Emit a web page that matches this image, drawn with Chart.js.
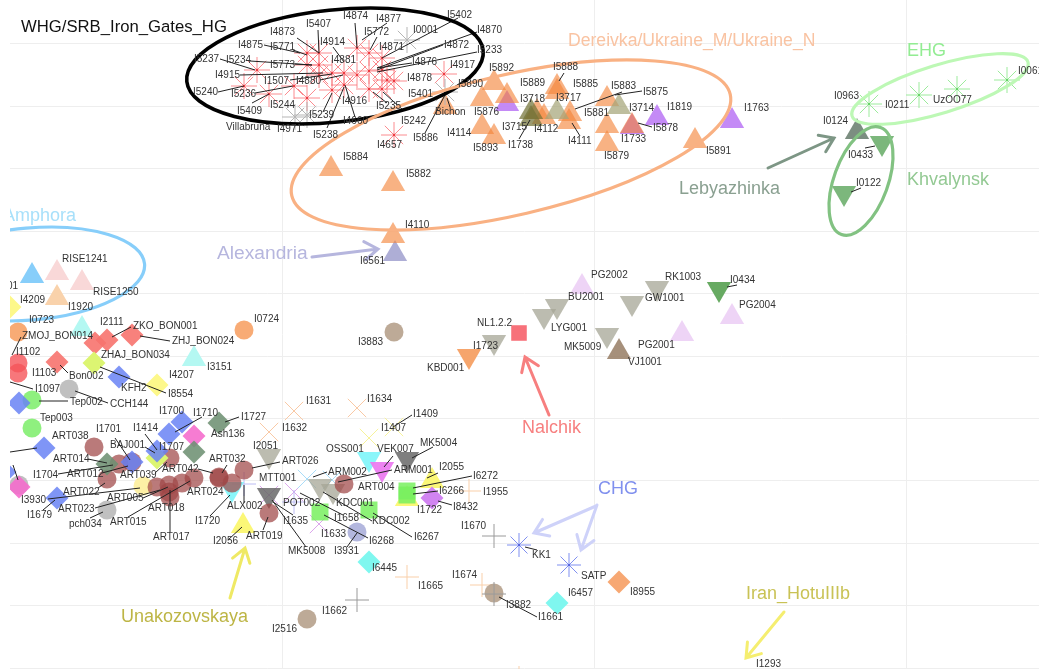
<!DOCTYPE html>
<html>
<head>
<meta charset="utf-8">
<title>WHG scatter</title>
<script src="https://cdn.jsdelivr.net/npm/chart.js@4"></script>
<style>
  html, body { margin: 0; padding: 0; background: #fff; }
  canvas { display: block; filter: blur(0.45px); }
</style>
</head>
<body>
<canvas id="chart" width="1039" height="669"></canvas>
<script>
const gridX = [282, 594, 906];
const gridY = [43, 106, 168, 231, 293, 356, 418, 480, 543, 605, 668];

// marks, one x and y list for each population
const whgX = [257, 244, 269, 294, 307, 307, 319, 319, 357, 369, 382, 382, 369, 344, 357, 332, 344, 369, 382, 394, 387, 444, 394, 332, 307, 319];
const whgY = [70, 86, 94, 86, 98, 53, 53, 65, 48, 53, 58, 70, 71, 73, 75, 90, 85, 89, 89, 81, 80, 74, 135, 73, 65, 75];
const whgGreyX = [407, 295, 307, 445];
const whgGreyY = [40, 117, 115, 92];
const purpleX = [507, 632, 657, 732];
const purpleY = [104, 127, 118, 121];
const ukraineX = [494, 482, 507, 557, 557, 607, 482, 494, 544, 537, 570, 569, 607, 607, 632, 695, 331, 393, 393, 445];
const ukraineY = [83, 99, 96, 87, 92, 99, 127, 137, 117, 112, 114, 122, 126, 144, 126, 141, 169, 184, 236, 107];
const oliveDarkX = [531, 531];
const oliveDarkY = [112, 119];
const oliveLightX = [619, 557];
const oliveLightY = [107, 112];
const alexandriaX = [395];
const alexandriaY = [254];
const ehgX = [869, 919, 957, 1007];
const ehgY = [104, 95, 89, 80];
const lebyazhinkaX = [857];
const lebyazhinkaY = [132];
const khvalynskX = [882, 844];
const khvalynskY = [143, 193];
const darkGreenX = [719];
const darkGreenY = [289];
const lilacX = [582, 732, 682];
const lilacY = [287, 317, 334];
const greyDownX = [557, 544, 632, 657, 607, 494, 269, 320, 333];
const greyDownY = [306, 316, 303, 288, 335, 342, 456, 486, 491];
const orangeDownX = [469];
const orangeDownY = [356];
const brownUpX = [619];
const brownUpY = [352];
const amphoraX = [32];
const amphoraY = [276];
const riseX = [57, 82];
const riseY = [273, 283];
const peachUpX = [57];
const peachUpY = [298];
const cyanUpX = [82, 194];
const cyanUpY = [329, 359];
const yellowUpX = [243, 432, 407];
const yellowUpY = [526, 481, 499];
const cyanDownX = [232, 369];
const cyanDownY = [489, 459];
const pinkDownX = [382];
const pinkDownY = [469];
const darkDownX = [407, 269];
const darkDownY = [459, 495];
const nalchikX = [519];
const nalchikY = [333];
const greenSquareX = [320, 369, 407, 407];
const greenSquareY = [512, 510, 491, 495];
const orangeCircleX = [18, 244];
const orangeCircleY = [332, 330];
const redCircleX = [18, 18];
const redCircleY = [363, 373];
const greyCircleX = [69, 19, 107];
const greyCircleY = [389, 485, 510];
const greenCircleX = [32, 32];
const greenCircleY = [400, 428];
const artX = [94, 119, 107, 170, 157, 169, 169, 182, 194, 170, 219, 219, 232, 244, 269, 344, 132];
const artY = [447, 464, 479, 458, 487, 485, 492, 483, 478, 497, 477, 478, 483, 470, 513, 484, 462];
const paleYellowX = [143];
const paleYellowY = [486];
const brownCircleX = [394, 494, 307];
const brownCircleY = [332, 593, 619];
const lavenderCircleX = [357];
const lavenderCircleY = [532];
const salmonX = [95, 107, 132, 57];
const salmonY = [343, 340, 335, 362];
const blueDiamondX = [119, 19, 44, 182, 169, 157, 132, 57, 5];
const blueDiamondY = [377, 403, 448, 422, 434, 451, 462, 498, 472];
const yellowDiamondX = [10, 157];
const yellowDiamondY = [307, 385];
const limeDiamondX = [94, 157];
const limeDiamondY = [363, 458];
const pinkDiamondX = [194, 19];
const pinkDiamondY = [436, 487];
const sageDiamondX = [219, 194, 107];
const sageDiamondY = [423, 452, 464];
const purpleDiamondX = [432];
const purpleDiamondY = [498];
const cyanDiamondX = [369, 557];
const cyanDiamondY = [562, 603];
const orangeDiamondX = [619];
const orangeDiamondY = [582];
const orangeXX = [294, 357, 269];
const orangeXY = [411, 408, 432];
const yellowXX = [394, 369];
const yellowXY = [427, 438];
const lilacXX = [294, 269, 319];
const lilacXY = [492, 495, 524];
const blueXX = [307, 332];
const blueXY = [479, 480];
const orangePlusX = [469, 407, 482, 519];
const orangePlusY = [491, 577, 585, 678];
const greyPlusX = [494, 494, 357];
const greyPlusY = [536, 594, 600];
const bluePlusX = [244, 294];
const bluePlusY = [484, 502];
const chgX = [519, 569];
const chgY = [545, 565];

// sample labels, left edge and middle of the text
const labelNames = [
  'I4873', 'I5407', 'I4874', 'I4877', 'I5772', 'I0001', 'I5402', 'I4870', 'I4875', 'I5771', 'I4914', 'I4871', 'I4872', 'I5233',
  'I5237', 'I5234', 'I5773', 'I4881', 'I4876', 'I4917', 'I4915', 'I1507', 'I4880', 'I4878', 'I5240', 'I5236', 'I5890', 'I5401',
  'I5409', 'I5244', 'I4916', 'I5235', 'I5239', 'Bichon', 'I4660', 'I5242', 'Villabruna', 'I4971', 'I5238', 'I5886', 'I4657',
  'I5892', 'I5889', 'I5888', 'I5885', 'I5883', 'I5875', 'I3718', 'I3717', 'I5876', 'I3714', 'I1819', 'I1763', 'I5881', 'I3715',
  'I4112', 'I5878', 'I4114', 'I1733', 'I1738', 'I4111', 'I5893', 'I5891', 'I5879', 'I5884', 'I5882', 'I4110', 'I6561',
  'I0963', 'I0211', 'UzOO77', 'I0061', 'I0124', 'I0433', 'I0122',
  'PG2002', 'RK1003', 'I0434', 'PG2004', 'BU2001', 'GW1001', 'NL1.2.2', 'LYG001', 'I1723', 'MK5009', 'PG2001', 'VJ1001', 'KBD001', 'I0724', 'I3883',
  'RISE1241', 'RISE1250', 'I4201', 'I4209', 'I1920', 'I0723', 'I0707', 'ZMOJ_BON014', 'I2111', 'ZKO_BON001', 'ZHJ_BON024', 'ZHAJ_BON034', 'I1102',
  'I3151', 'I1103', 'I0129', 'Bon002', 'I4207', 'KFH2', 'I8554', 'I0708', 'I1097',
  'Tep002', 'CCH144', 'I0415', 'Tep003', 'I1700', 'I1710', 'I1727', 'Ash136', 'I1701', 'I1414', 'ART038', 'I0004', 'BAJ001', 'I1707', 'I0006',
  'ART014', 'ART032', 'I1704', 'ART012', 'ART039', 'ART042', 'ART022', 'ART024', 'ART005', 'I3930', 'ART023', 'ART018', 'ALX002', 'I1679',
  'pch034', 'ART015', 'I1720', 'ART017', 'I2056',
  'I1631', 'I1634', 'I1409', 'I1632', 'I1407', 'I2051', 'MK5004', 'OSS001', 'VEK007', 'ART026', 'I2055', 'ARM002', 'ARM001', 'I6272', 'MTT001',
  'ART004', 'I6266', 'I1955', 'POT002', 'KDC001', 'I8432', 'I1722', 'I1658', 'I1635', 'KDC002', 'I1670', 'ART019', 'I1633', 'I6267', 'I6268',
  'MK5008', 'I3931', 'I6445',
  'I1674', 'I1665', 'KK1', 'SATP', 'I6457', 'I8955', 'I3882', 'I1662', 'I1661', 'I2516', 'I1293'
];
const labelX = [
  270, 306, 343, 376, 364, 413, 447, 477, 238, 270, 320, 379, 444, 477,
  194, 226, 270, 331, 412, 450, 215, 264, 296, 407, 193, 231, 458, 408,
  237, 270, 342, 376, 309, 435, 343, 401, 226, 277, 313, 413, 377,
  489, 520, 553, 573, 611, 643, 520, 556, 474, 629, 667, 744, 584, 502,
  534, 653, 447, 621, 508, 568, 473, 706, 604, 343, 406, 405, 360,
  834, 885, 933, 1018, 823, 848, 856,
  591, 665, 730, 739, 568, 645, 477, 551, 473, 564, 638, 628, 427, 254, 358,
  62, 93, -7, 20, 68, 29, -17, 22, 100, 133, 172, 101, 16,
  207, 32, -17, 69, 169, 121, 168, -17, 35,
  70, 110, -16, 40, 159, 193, 241, 211, 96, 133, 52, -17, 110, 159, -17,
  53, 209, 33, 67, 120, 162, 63, 187, 107, 21, 58, 148, 227, 27,
  69, 110, 195, 153, 213,
  306, 367, 413, 282, 381, 253, 420, 326, 377, 282, 439, 328, 394, 473, 259,
  358, 439, 483, 283, 336, 453, 417, 334, 283, 372, 461, 246, 321, 414, 369,
  288, 334, 372,
  452, 418, 532, 581, 568, 630, 506, 322, 538, 272, 756
];
const labelY = [
  32, 24, 16, 19, 32, 30, 15, 30, 45, 47, 42, 47, 45, 50,
  59, 60, 65, 60, 62, 65, 75, 81, 81, 78, 92, 94, 84, 94,
  111, 105, 101, 106, 115, 112, 121, 121, 127, 129, 135, 138, 145,
  68, 83, 67, 84, 86, 92, 99, 98, 112, 108, 107, 108, 113, 127,
  129, 128, 133, 139, 145, 141, 148, 151, 156, 157, 174, 225, 261,
  96, 105, 100, 71, 121, 155, 183,
  275, 277, 280, 305, 297, 298, 323, 328, 346, 347, 345, 362, 368, 319, 342,
  259, 292, 286, 300, 307, 320, 318, 336, 322, 326, 341, 355, 352,
  367, 373, 368, 376, 375, 388, 394, 389, 389,
  402, 404, 419, 418, 411, 413, 417, 434, 429, 428, 436, 440, 445, 447, 460,
  459, 459, 475, 474, 475, 469, 492, 492, 498, 500, 509, 508, 506, 515,
  524, 522, 521, 537, 541,
  401, 399, 414, 428, 428, 446, 443, 449, 449, 461, 467, 472, 470, 476, 478,
  487, 491, 492, 503, 503, 507, 510, 518, 521, 521, 526, 536, 534, 537, 541,
  551, 551, 568,
  575, 586, 555, 576, 593, 592, 605, 611, 617, 629, 664
];

// leader lines from a label to its mark
const leaderFromX = [297, 318, 355, 387, 377, 458, 477, 443, 477, 412, 264, 293, 333, 250, 220, 295, 240, 290, 320, 218, 255, 252, 345, 327, 323, 373, 403, 425, 447,
  564, 622, 642, 530, 572, 638, 865, 851, 727,
  112, 140, 21, 60, 100, 10,
  39, 75, 225, 175, 115, 145, 145, 10, 13, 88, 58, 102, 155, 198, 222, 98, 48, 43, 143, 95, 90, 128, 170, 210, 228, 244, 252,
  412, 433, 393, 327, 392, 472, 438, 438, 452, 300, 323, 373, 324, 347, 272, 273, 263, 525, 499];
const leaderFromY = [38, 30, 23, 23, 37, 18, 32, 45, 52, 63, 45, 50, 47, 61, 59, 64, 75, 80, 80, 92, 93, 103, 85, 128, 112, 92, 110, 133, 98,
  73, 92, 91, 120, 123, 123, 148, 192, 287,
  337, 336, 337, 365, 367, 382,
  401, 391, 422, 432, 438, 434, 447, 452, 465, 459, 474, 473, 473, 469, 473, 488, 499, 510, 498, 508, 518, 517, 532, 516, 540, 503, 468,
  415, 447, 456, 472, 470, 476, 491, 473, 505, 493, 492, 513, 515, 547, 500, 502, 530, 547, 597];
const leaderToX = [319, 319, 357, 362, 370, 382, 377, 377, 377, 377, 300, 307, 344, 312, 255, 312, 323, 332, 343, 244, 293, 269, 355, 344, 332, 387, 383, 445, 450,
  559, 575, 615, 519, 580, 652, 875, 861, 737,
  131, 170, 12, 68, 166, 33,
  68, 108, 239, 202, 130, 157, 155, 37, 18, 107, 113, 128, 167, 213, 227, 105, 140, 55, 168, 160, 103, 190, 170, 230, 242, 244, 280,
  393, 412, 384, 313, 338, 413, 413, 427, 438, 343, 372, 412, 368, 357, 306, 293, 268, 537, 537];
const leaderToY = [53, 53, 48, 40, 50, 58, 68, 70, 72, 68, 53, 55, 62, 65, 70, 65, 73, 74, 75, 86, 86, 94, 117, 87, 93, 103, 92, 95, 107,
  81, 109, 95, 139, 136, 127, 146, 188, 285,
  327, 341, 355, 373, 393, 389,
  401, 403, 417, 417, 460, 450, 453, 448, 480, 463, 465, 466, 462, 473, 465, 483, 488, 500, 487, 490, 512, 481, 490, 495, 527, 485, 462,
  427, 458, 467, 477, 482, 488, 494, 478, 501, 515, 521, 537, 538, 533, 547, 515, 517, 550, 617];

// the hand drawn rings, centre, half axes and tilt in degrees
const ringX = [335, 511, 30, 940, 861];
const ringY = [66, 145, 274, 89, 181];
const ringA = [149, 225, 115, 92, 57];
const ringB = [56, 70, 46, 24, 27];
const ringTilt = [-6, -13, -5, -17, -70];
const ringColors = ['#000000', '#f9b183', '#87cefa', '#bdf8b5', '#82c282'];

// the big population names
const groupNames = ['WHG/SRB_Iron_Gates_HG', 'Dereivka/Ukraine_M/Ukraine_N', 'Amphora', 'Alexandria', 'EHG', 'Lebyazhinka', 'Khvalynsk', 'Nalchik', 'CHG', 'Unakozovskaya', 'Iran_HotuIIIb'];
const groupX = [21, 568, 3, 217, 907, 679, 907, 522, 598, 121, 746];
const groupY = [27, 41, 216, 254, 51, 189, 180, 428, 489, 617, 594];
const groupSizes = [16.7, 17.6, 18, 19.2, 18, 18, 18, 18, 18, 18, 18];
const groupColors = ['#111111', '#f9c3a2', '#a8e0fa', '#b6b6de', '#93ec93', '#8aa091', '#93c993', '#f77f7f', '#8090ee', '#bdb545', '#c9c255'];

// arrows pointing from a name to the marks
const arrowFromX = [312, 768, 549, 596, 597, 230, 784];
const arrowFromY = [257, 168, 415, 506, 505, 598, 612];
const arrowToX = [378, 834, 525, 534, 581, 245, 746];
const arrowToY = [249, 138, 357, 533, 550, 548, 658];
const arrowColors = ['#b6b6de', '#7d9685', '#f77f7f', '#ced2f9', '#ced2f9', '#efe965', '#f5ee70'];

function zip(xs, ys) {
  return xs.map((x, i) => ({ x: x, y: ys[i] }));
}

// a filled symbol
function solid(xs, ys, style, color, size, rotation) {
  return {
    data: zip(xs, ys),
    pointStyle: style,
    pointRadius: size,
    pointRotation: rotation || 0,
    pointBackgroundColor: color,
    pointBorderWidth: 0,
    showLine: false
  };
}

// a symbol made of strokes only
function thin(xs, ys, style, color, size) {
  return {
    data: zip(xs, ys),
    pointStyle: style,
    pointRadius: size,
    pointBackgroundColor: 'transparent',
    pointBorderColor: color,
    pointBorderWidth: 1,
    showLine: false
  };
}

const up = 14, down = 14, dia = 11.5, circ = 9.5;

const leaderPoints = [];
leaderFromX.forEach((x, i) => {
  leaderPoints.push({ x: x, y: leaderFromY[i] }, { x: leaderToX[i], y: leaderToY[i] }, { x: NaN, y: NaN });
});

const datasets = [
  thin(orangeXX, orangeXY, 'crossRot', '#f9c9a5', 13),
  thin(yellowXX, yellowXY, 'crossRot', '#f6f29a', 13),
  thin(lilacXX, lilacXY, 'crossRot', '#dca6ec', 13),
  thin(blueXX, blueXY, 'crossRot', '#a9dcf8', 13),
  thin(orangePlusX, orangePlusY, 'cross', '#f9cfa9', 12),
  thin(bluePlusX, bluePlusY, 'cross', '#bcbcf4', 12),
  solid(alexandriaX, alexandriaY, 'triangle', 'rgba(165,165,210,0.9)', up),
  solid(purpleX, purpleY, 'triangle', 'rgba(190,125,245,0.9)', up),
  solid(ukraineX, ukraineY, 'triangle', 'rgba(243,130,55,0.62)', up),
  solid(oliveLightX, oliveLightY, 'triangle', 'rgba(165,165,120,0.72)', up),
  solid(oliveDarkX, oliveDarkY, 'triangle', 'rgba(115,115,55,0.72)', up),
  solid(lebyazhinkaX, lebyazhinkaY, 'triangle', 'rgba(110,130,115,0.9)', up),
  solid(khvalynskX, khvalynskY, 'triangle', 'rgba(110,175,110,0.9)', down, 180),
  solid(darkGreenX, darkGreenY, 'triangle', 'rgba(95,165,90,0.95)', down, 180),
  solid(lilacX, lilacY, 'triangle', 'rgba(235,205,245,0.85)', up),
  solid(greyDownX, greyDownY, 'triangle', 'rgba(165,165,150,0.75)', down, 180),
  solid(orangeDownX, orangeDownY, 'triangle', 'rgba(245,160,100,0.95)', down, 180),
  solid(brownUpX, brownUpY, 'triangle', 'rgba(150,125,100,0.85)', up),
  solid(amphoraX, amphoraY, 'triangle', '#87cefa', up),
  solid(riseX, riseY, 'triangle', '#f9d8d8', up),
  solid(peachUpX, peachUpY, 'triangle', '#f9d2ab', up),
  solid(cyanUpX, cyanUpY, 'triangle', '#b4f8f2', up),
  solid(yellowUpX, yellowUpY, 'triangle', '#fbf777', up),
  solid(cyanDownX, cyanDownY, 'triangle', 'rgba(125,245,250,0.9)', down, 180),
  solid(pinkDownX, pinkDownY, 'triangle', 'rgba(235,120,240,0.92)', down, 180),
  solid(darkDownX, darkDownY, 'triangle', 'rgba(105,105,105,0.85)', down, 180),
  solid(nalchikX, nalchikY, 'rect', '#f7717a', 11),
  solid(greenSquareX, greenSquareY, 'rect', 'rgba(120,240,95,0.85)', 12),
  solid(orangeCircleX, orangeCircleY, 'circle', '#f8ab75', circ),
  solid(redCircleX, redCircleY, 'circle', 'rgba(245,85,90,0.8)', circ),
  solid(greyCircleX, greyCircleY, 'circle', 'rgba(185,185,185,0.9)', circ),
  solid(greenCircleX, greenCircleY, 'circle', '#8ff07f', circ),
  solid(paleYellowX, paleYellowY, 'circle', '#fdf0a5', circ),
  solid(artX, artY, 'circle', 'rgba(160,70,70,0.72)', circ),
  solid(brownCircleX, brownCircleY, 'circle', 'rgba(185,165,145,0.95)', circ),
  solid(lavenderCircleX, lavenderCircleY, 'circle', '#b3b7de', circ),
  solid(salmonX, salmonY, 'rectRot', 'rgba(247,115,110,0.9)', dia),
  solid(limeDiamondX, limeDiamondY, 'rectRot', '#dcf572', dia),
  solid(blueDiamondX, blueDiamondY, 'rectRot', 'rgba(105,130,245,0.85)', dia),
  solid(yellowDiamondX, yellowDiamondY, 'rectRot', '#fdf88a', dia),
  solid(pinkDiamondX, pinkDiamondY, 'rectRot', 'rgba(245,110,205,0.9)', dia),
  solid(sageDiamondX, sageDiamondY, 'rectRot', 'rgba(110,145,115,0.88)', dia),
  solid(purpleDiamondX, purpleDiamondY, 'rectRot', '#d184f1', dia),
  solid(cyanDiamondX, cyanDiamondY, 'rectRot', '#7ff7ef', dia),
  solid(orangeDiamondX, orangeDiamondY, 'rectRot', '#f7a873', dia),
  thin(whgX, whgY, 'star', 'rgba(250,120,125,0.85)', 13),
  solid(whgX, whgY, 'circle', '#ee3a40', 1.2),
  thin(whgGreyX, whgGreyY, 'star', '#b5b5b5', 13),
  thin(ehgX, ehgY, 'star', '#9ceb9c', 13),
  solid(ehgX, ehgY, 'circle', '#55cc55', 1),
  thin(chgX, chgY, 'star', '#7f8ff0', 12),
  solid(chgX, chgY, 'circle', '#4455dd', 1),
  thin(greyPlusX, greyPlusY, 'cross', '#9a9a9a', 12),
  {
    data: leaderPoints,
    showLine: true,
    spanGaps: false,
    borderColor: '#222222',
    borderWidth: 1,
    pointRadius: 0
  }
];
// later entries lie on top of earlier ones
datasets.forEach((d, i) => { d.order = datasets.length - i; });

const overlays = {
  id: 'overlays',
  afterDatasetsDraw(chart) {
    const ctx = chart.ctx;
    const sx = chart.scales.x, sy = chart.scales.y;
    const area = chart.chartArea;
    ctx.save();
    ctx.beginPath();
    ctx.rect(area.left, area.top, area.right - area.left, area.bottom - area.top);
    ctx.clip();

    ctx.lineCap = 'round';
    ringX.forEach((x, i) => {
      ctx.beginPath();
      ctx.ellipse(sx.getPixelForValue(x), sy.getPixelForValue(ringY[i]), ringA[i], ringB[i], ringTilt[i] * Math.PI / 180, 0, Math.PI * 2);
      ctx.strokeStyle = ringColors[i];
      ctx.lineWidth = i == 0 ? 3.6 : 3.2;
      ctx.stroke();
    });

    arrowFromX.forEach((x, i) => {
      const x0 = sx.getPixelForValue(x), y0 = sy.getPixelForValue(arrowFromY[i]);
      const x1 = sx.getPixelForValue(arrowToX[i]), y1 = sy.getPixelForValue(arrowToY[i]);
      const ang = Math.atan2(y1 - y0, x1 - x0);
      ctx.beginPath();
      ctx.moveTo(x0, y0);
      ctx.lineTo(x1, y1);
      ctx.moveTo(x1 - 16 * Math.cos(ang - 0.6), y1 - 16 * Math.sin(ang - 0.6));
      ctx.lineTo(x1, y1);
      ctx.lineTo(x1 - 16 * Math.cos(ang + 0.6), y1 - 16 * Math.sin(ang + 0.6));
      ctx.strokeStyle = arrowColors[i];
      ctx.lineWidth = 3;
      ctx.stroke();
    });

    ctx.textBaseline = 'middle';
    ctx.textAlign = 'left';
    ctx.fillStyle = '#333333';
    ctx.font = '10px "Liberation Sans"';
    labelNames.forEach((name, i) => {
      ctx.fillText(name, sx.getPixelForValue(labelX[i]), sy.getPixelForValue(labelY[i]));
    });

    groupNames.forEach((name, i) => {
      ctx.font = groupSizes[i] + 'px "Liberation Sans"';
      ctx.fillStyle = groupColors[i];
      ctx.fillText(name, sx.getPixelForValue(groupX[i]), sy.getPixelForValue(groupY[i]));
    });
    ctx.restore();
  }
};

new Chart(document.getElementById('chart'), {
  type: 'scatter',
  data: { datasets: datasets },
  plugins: [overlays],
  options: {
    responsive: false,
    animation: false,
    events: [],
    layout: { padding: { left: 10 }, autoPadding: false },
    plugins: { legend: { display: false }, tooltip: { enabled: false } },
    scales: {
      x: {
        min: 10,
        max: 1039,
        afterBuildTicks: axis => { axis.ticks = gridX.map(v => ({ value: v })); },
        ticks: { display: false },
        border: { display: false },
        grid: { color: '#eeeeee', drawTicks: false, tickLength: 0 }
      },
      y: {
        min: 0,
        max: 669,
        reverse: true,
        afterBuildTicks: axis => { axis.ticks = gridY.map(v => ({ value: v })); },
        ticks: { display: false },
        border: { display: false },
        grid: { color: '#eeeeee', drawTicks: false, tickLength: 0 }
      }
    }
  }
});
</script>
</body>
</html>
